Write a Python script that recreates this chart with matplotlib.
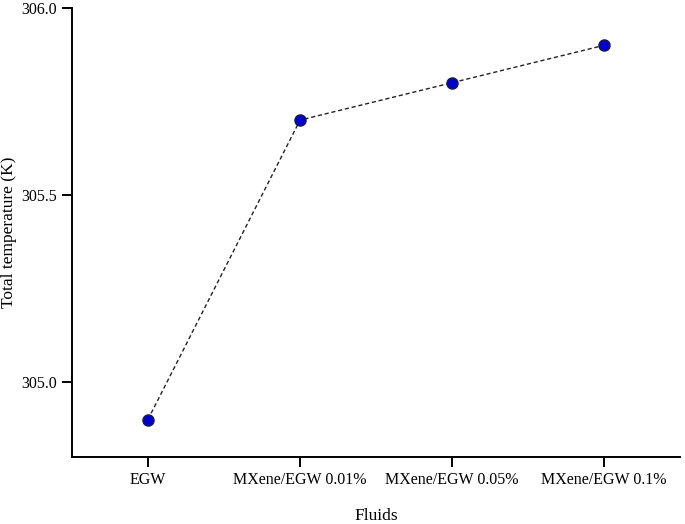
import numpy as np
import matplotlib
matplotlib.use('Agg')
import matplotlib.pyplot as plt

plt.rcParams['font.family'] = ['Liberation Serif', 'DejaVu Serif']

# data
fluids = ['EGW', 'MXene/EGW 0.01%', 'MXene/EGW 0.05%', 'MXene/EGW 0.1%']
total_temp = [304.9, 305.7, 305.8, 305.9]

fig = plt.figure(figsize=(6.85, 5.24), dpi=100)
ax = fig.add_axes([0.105, 0.128, 0.888, 0.857])

x = np.arange(len(fluids))
ax.plot(x, total_temp, linestyle='--', color='#222222', linewidth=1.0,
        dashes=(3, 2), marker='o', markersize=8,
        markerfacecolor='#0000cc', markeredgecolor='#1a1a4a', markeredgewidth=1.0)

ax.set_xlim(-0.5, 3.5)
ax.set_ylim(304.8, 306.0)
ax.set_xticks(x)
ax.set_xticklabels(fluids)
ax.set_yticks([305.0, 305.5, 306.0])
ax.set_yticklabels(['305.0', '305.5', '306.0'])

for s in ['top', 'right']:
    ax.spines[s].set_visible(False)
for s in ['left', 'bottom']:
    ax.spines[s].set_linewidth(1.4)

ax.tick_params(direction='out', length=7, width=1.4, labelsize=11.5, pad=4)

ax.set_xlabel('Fluids', fontsize=12.5, labelpad=14)
ax.set_ylabel('Total temperature (K)', fontsize=12.5, labelpad=3)

fig.savefig('out.png', dpi=100)
